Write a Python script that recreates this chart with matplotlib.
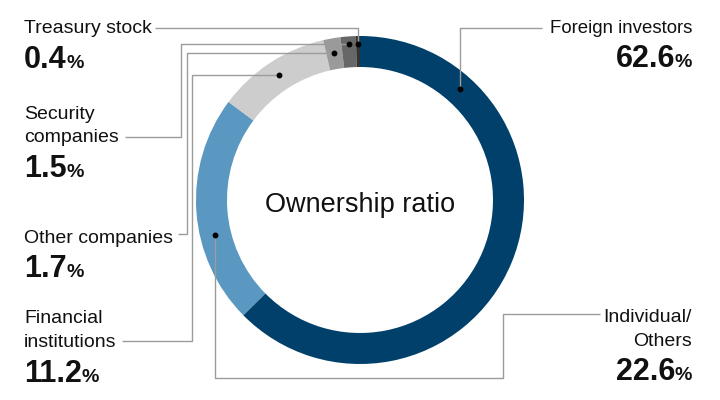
import matplotlib
matplotlib.use("Agg")
import matplotlib.pyplot as plt
import numpy as np

plt.rcParams['font.family'] = ['Liberation Sans', 'DejaVu Sans']

# ---- data ----
categories = ["Foreign investors", "Individual/\nOthers", "Financial\ninstitutions",
              "Other companies", "Security\ncompanies", "Treasury stock"]
values = [62.6, 22.6, 11.2, 1.7, 1.5, 0.4]
pct_labels = ["62.6", "22.6", "11.2", "1.7", "1.5", "0.4"]
colors = ["#00406a", "#5a97c1", "#cdcdcd", "#9a9a9a", "#676767", "#333333"]
center_title = "Ownership ratio"

# ---- layout (pixels) ----
CX, CY, R, W = 360, 200, 164, 31
anchor_frac = [0.186, 0.38, 0.5, 0.5, 0.5, 0.5]
anchor_r = [149, 149, 149, 149, 156, 156]
leader_paths = [
    [('v', 28), ('h', 542)],
    [('v', 377.5), ('h', 503), ('v', 314), ('h', 600)],
    [('h', 192), ('v', 341), ('h', 122)],
    [('h', 187), ('v', 234), ('h', 178)],
    [('h', 181), ('v', 137), ('h', 125)],
    [('v', 28), ('h', 155)],
]
text_side = ['right', 'right', 'left', 'left', 'left', 'left']
text_x = [692, 692, 24, 24, 24, 24]
line_baselines = [[33], [322, 346], [323, 347], [243], [119, 142], [33]]
num_baselines = [67, 380, 382, 277, 177, 68]
label_sizes = [13.4, 14, 14, 14, 14, 14]

fig = plt.figure(figsize=(7.2, 4.0), dpi=100)
ax = fig.add_axes([0, 0, 1, 1])

ax.pie(values, colors=colors, startangle=-90, counterclock=True,
       radius=R, center=(CX, CY),
       wedgeprops=dict(width=W, linewidth=0), normalize=True)
ax.set_xlim(0, 720)
ax.set_ylim(400, 0)
ax.set_aspect('equal')
ax.axis('off')

ax.text(CX, 212, center_title, ha='center', va='baseline', fontsize=19.5, color='#111111')

total = float(sum(values))
cum = np.concatenate([[0], np.cumsum(values)]) / total
line_color = '#9c9c9c'
for i in range(len(values)):
    frac = cum[i] + anchor_frac[i] * (cum[i + 1] - cum[i])
    theta = np.deg2rad(-90 + 360 * frac)
    px = CX + anchor_r[i] * np.cos(theta)
    py = CY + anchor_r[i] * np.sin(theta)
    xs, ys = [px], [py]
    for kind, val in leader_paths[i]:
        if kind == 'v':
            xs.append(xs[-1]); ys.append(val)
        else:
            xs.append(val); ys.append(ys[-1])
    ax.plot(xs, ys, color=line_color, lw=1.0, solid_capstyle='butt', zorder=3)
    ax.plot([px], [py], 'o', color='black', markersize=3.2, zorder=4)

    lines = categories[i].split('\n')
    for ln, by in zip(lines, line_baselines[i]):
        ax.text(text_x[i], by, ln, ha=text_side[i], va='baseline',
                fontsize=label_sizes[i], color='#111111')

fig.canvas.draw()
renderer = fig.canvas.get_renderer()
inv = ax.transData.inverted()
for i in range(len(values)):
    nb = num_baselines[i]
    if text_side[i] == 'left':
        t = ax.text(text_x[i], nb, pct_labels[i], ha='left', va='baseline',
                    fontsize=22, fontweight='bold', color='#111111')
        bb = t.get_window_extent(renderer)
        x1 = inv.transform((bb.x1, bb.y0))[0]
        ax.text(x1 - 0.5, nb, '%', ha='left', va='baseline', fontsize=14,
                fontweight='bold', color='#111111')
    else:
        p = ax.text(text_x[i], nb, '%', ha='right', va='baseline', fontsize=14,
                    fontweight='bold', color='#111111')
        bb = p.get_window_extent(renderer)
        x0 = inv.transform((bb.x0, bb.y0))[0]
        ax.text(x0 + 0.5, nb, pct_labels[i], ha='right', va='baseline',
                fontsize=22, fontweight='bold', color='#111111')

fig.savefig('out.png', dpi=100)
